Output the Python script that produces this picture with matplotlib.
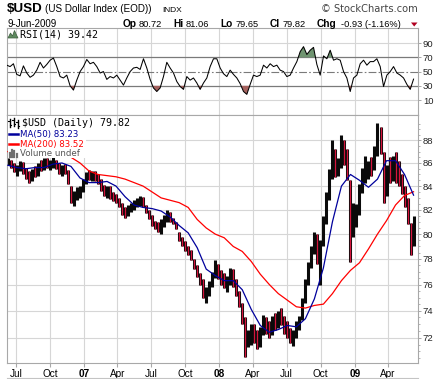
import matplotlib
matplotlib.use("Agg")
import matplotlib.pyplot as plt
from matplotlib.lines import Line2D
from matplotlib.patches import Rectangle, Polygon
from matplotlib.ticker import FixedLocator, NullFormatter, FixedFormatter
import pandas as pd

plt.rcParams['font.family'] = ['Liberation Sans', 'DejaVu Sans']

W, H = 437, 379

# ---------------- data ----------------
price_high = [86.4, 86.3, 86.0, 85.8, 86.2, 86.1, 85.6, 85.3, 85.5, 85.7,
              86.0, 86.3, 86.4, 86.4, 86.3, 86.5, 86.3, 86.0, 85.8, 85.9,
              85.4, 84.0, 83.6, 83.9, 84.0, 84.6, 85.2, 85.4, 85.3, 85.3,
              85.0, 84.6, 84.1, 84.0, 84.0, 83.5, 83.3, 83.0, 82.6, 82.2,
              82.4, 82.6, 82.8, 83.0, 83.2, 83.1, 82.4, 82.0, 81.6, 81.1,
              81.0, 81.2, 81.6, 82.0, 81.8, 81.3, 81.0, 80.2, 79.8, 79.4,
              79.0, 78.7, 78.0, 77.5, 76.9, 76.4, 75.8, 76.3, 77.0, 77.9,
              77.6, 77.1, 76.9, 76.7, 77.3, 77.2, 76.4, 75.5, 74.6, 73.5,
              72.6, 73.0, 73.0, 72.6, 72.8, 73.7, 73.5, 73.2, 73.6, 73.8,
              74.0, 74.2, 73.6, 73.2, 72.7, 72.6, 73.2, 73.6, 75.0, 76.4,
              77.8, 79.0, 80.2, 80.0, 79.5, 81.5, 83.5, 85.5, 88.0, 87.2,
              86.4, 88.5, 88.0, 87.2, 84.5, 82.6, 82.5, 84.2, 85.6, 86.6,
              86.2, 86.5, 87.5, 89.6, 89.2, 87.0, 85.8, 86.5, 86.6, 87.0,
              86.2, 85.0, 84.0, 83.0, 80.9, 81.5]
price_low = [85.8, 85.6, 85.2, 84.9, 85.3, 85.0, 84.6, 84.3, 84.4, 84.8,
             84.9, 85.3, 85.4, 85.6, 85.4, 85.6, 85.5, 85.0, 84.9, 85.0,
             84.2, 82.6, 82.3, 82.8, 83.0, 83.5, 84.2, 84.5, 84.4, 84.4,
             84.2, 83.6, 83.2, 83.0, 82.9, 82.7, 82.6, 82.2, 81.6, 81.3,
             81.5, 81.8, 82.0, 82.2, 82.3, 82.2, 81.7, 81.2, 80.7, 80.4,
             80.2, 80.0, 80.6, 81.0, 81.0, 80.8, 80.4, 79.4, 79.0, 78.6,
             78.3, 77.9, 77.2, 76.6, 76.0, 75.0, 74.6, 75.1, 75.8, 76.5,
             76.4, 76.0, 75.7, 75.4, 76.0, 75.8, 75.1, 74.3, 73.0, 70.6,
             71.3, 71.5, 71.6, 71.2, 71.3, 72.2, 72.3, 72.0, 72.2, 72.6,
             72.7, 72.9, 72.3, 72.0, 71.6, 71.4, 72.0, 72.6, 73.3, 74.6,
             76.0, 77.3, 78.4, 77.6, 76.0, 79.0, 80.8, 82.8, 84.6, 84.8,
             84.9, 85.6, 85.8, 84.5, 77.8, 79.8, 80.6, 81.6, 83.4, 84.3,
             84.6, 84.9, 85.4, 86.6, 86.8, 82.6, 83.2, 84.3, 84.4, 84.3,
             84.0, 83.3, 82.2, 80.8, 78.3, 79.0]
price_close = [86.0, 85.8, 85.3, 85.6, 85.9, 85.2, 84.8, 84.6, 85.2, 85.0,
               85.8, 85.6, 86.1, 85.9, 86.0, 86.2, 85.7, 85.3, 85.5, 85.2,
               84.4, 82.9, 83.0, 83.5, 83.8, 84.4, 85.0, 84.8, 85.0, 84.7,
               84.5, 83.9, 83.5, 83.8, 83.2, 83.0, 82.9, 82.4, 81.8, 81.6,
               82.0, 82.3, 82.5, 82.6, 83.0, 82.4, 81.9, 81.4, 80.9, 80.6,
               80.4, 81.0, 81.3, 81.8, 81.2, 81.0, 80.6, 79.6, 79.2, 78.9,
               78.5, 78.1, 77.4, 76.8, 76.3, 75.3, 75.5, 76.0, 76.6, 77.4,
               76.8, 76.5, 76.0, 76.2, 77.0, 76.0, 75.4, 74.6, 73.3, 71.6,
               72.0, 72.5, 72.0, 71.6, 72.5, 73.3, 72.8, 72.5, 73.4, 73.0,
               73.6, 73.5, 72.6, 72.4, 71.9, 72.2, 73.0, 73.4, 74.8, 76.2,
               77.5, 78.6, 79.8, 78.0, 78.8, 81.0, 83.0, 85.0, 86.5, 85.5,
               86.0, 87.5, 86.4, 85.0, 81.0, 81.5, 82.0, 83.8, 85.2, 85.6,
               85.8, 85.6, 87.2, 88.8, 87.4, 84.2, 85.4, 85.0, 86.0, 84.8,
               84.5, 83.6, 82.5, 81.2, 78.8, 79.82]

ma50 = [85.8, 85.6, 85.5, 85.6, 85.6, 85.9, 86.0, 85.7, 84.7, 84.3,
        84.3, 84.4, 84.0, 83.1, 82.4, 82.2, 82.1, 81.9, 81.4, 80.7,
        80.1, 78.9, 77.2, 76.7, 76.3, 76.3, 75.6, 74.1, 72.9, 72.4,
        72.6, 72.9, 72.8, 73.4, 74.9, 77.3, 81.0, 84.0, 85.0, 84.5,
        83.9, 84.6, 86.2, 86.2, 85.0, 83.23]
ma200 = [87.0, 86.9, 86.9, 86.8, 86.8, 86.7, 86.6, 86.5, 86.0, 85.3,
         85.0, 84.9, 84.8, 84.6, 84.3, 84.0, 83.5, 83.0, 82.8, 82.6,
         82.2, 81.2, 80.5, 80.0, 79.7, 79.0, 78.6, 77.8, 76.8, 76.0,
         75.3, 74.8, 74.3, 74.2, 74.4, 74.5, 75.3, 76.3, 77.1, 77.7,
         78.8, 80.0, 81.1, 82.4, 83.2, 83.52]

rsi = [59, 57, 61, 46, 44, 58, 48, 42, 45, 52, 63, 55, 60, 66, 69, 57, 43, 41,
       45, 30, 24, 38, 50, 57, 67, 61, 63, 57, 48, 50, 39, 43, 41, 45, 38, 31,
       41, 50, 55, 56, 53, 68, 55, 39, 27, 22, 27, 43, 63, 55, 48, 36, 29, 25,
       43, 38, 41, 34, 25, 34, 41, 57, 68, 68, 55, 47, 43, 52, 46, 41, 33, 22,
       18, 32, 45, 43, 45, 59, 55, 61, 57, 59, 52, 50, 43, 45, 55, 64, 78, 85,
       74, 80, 84, 60, 45, 72, 68, 80, 66, 68, 66, 50, 41, 22, 41, 45, 61, 66,
       59, 64, 64, 68, 57, 29, 45, 50, 57, 48, 45, 41, 32, 25, 39.42]

quarter_dates = ['2006-07-01', '2006-10-01', '2007-01-01', '2007-04-01',
                 '2007-07-01', '2007-10-01', '2008-01-01', '2008-04-01',
                 '2008-07-01', '2008-10-01', '2009-01-01', '2009-04-01']
quarter_labels = ['Jul', 'Oct', '07', 'Apr', 'Jul', 'Oct', '08', 'Apr',
                  'Jul', 'Oct', '09', 'Apr']
price_ticks = [72, 74, 76, 78, 80, 82, 84, 86, 88]
rsi_ticks = [10, 30, 50, 70, 90]

# ---------------- positions ----------------
start, end = "2006-06-09", "2009-06-09"
price_dates = pd.date_range(start, end, periods=len(price_close))
ma_dates = pd.date_range(start, end, periods=len(ma50))
rsi_dates = pd.date_range("2006-06-06", end, periods=len(rsi))
x_left = pd.Timestamp("2006-06-06 16:00")
x_right = pd.Timestamp("2009-06-21")
qd = pd.to_datetime(quarter_dates)

fig = plt.figure(figsize=(W / 100, H / 100), dpi=100)


def box(x0, y0, x1, y1):
    return [x0 / W, 1 - y1 / H, (x1 - x0) / W, (y1 - y0) / H]


def fx(x):
    return x / W


def fy(y):
    return 1 - y / H


grid_c = '#d6d6d6'
spine_c = '#a8a8a8'

ax_r = fig.add_axes(box(7, 28.5, 418, 115))
ax = fig.add_axes(box(7, 115, 418, 363))

for a in (ax_r, ax):
    a.set_xlim(x_left, x_right)
    a.set_xticks(qd)
    for s in a.spines.values():
        s.set_color(spine_c)
        s.set_linewidth(0.8)
    a.grid(True, axis='x', color=grid_c, lw=0.8)
    a.set_axisbelow(True)
    a.yaxis.tick_right()
    a.tick_params(axis='y', colors=spine_c, labelcolor='#222222',
                  labelsize=6.8, length=2, width=0.7, pad=1.5)

# ---------------- RSI panel ----------------
ax_r.tick_params(axis='x', length=0, labelbottom=False)
ax_r.set_ylim(-11, 110.5)
ax_r.set_yticks(rsi_ticks)
ax_r.set_yticklabels([str(t) for t in rsi_ticks])
for lvl in (90, 10):
    ax_r.axhline(lvl, color=grid_c, lw=0.8, zorder=0)
ax_r.axhline(70, color='#7a7a7a', lw=0.9, zorder=1)
ax_r.axhline(30, color='#7a7a7a', lw=0.9, zorder=1)
ax_r.axhline(50, color='#7a7a7a', lw=0.8, ls=(0, (7, 2, 1.5, 2)), zorder=1)
ax_r.fill_between(rsi_dates, rsi, 70, where=[v > 70 for v in rsi],
                  interpolate=True, color='#6f9470', lw=0, zorder=2)
ax_r.fill_between(rsi_dates, rsi, 30, where=[v < 30 for v in rsi],
                  interpolate=True, color='#a5625e', lw=0, zorder=2)
ax_r.plot(rsi_dates, rsi, color='black', lw=0.75, zorder=3)

# ---------------- price panel ----------------
ax.set_yscale('log')
ax.set_ylim(70.17, 90.3)
ax.yaxis.set_major_locator(FixedLocator(price_ticks))
ax.yaxis.set_major_formatter(FixedFormatter([str(t) for t in price_ticks]))
minor = [v / 2 for v in range(141, 181) if v % 4 != 0]
ax.yaxis.set_minor_locator(FixedLocator(minor))
ax.yaxis.set_minor_formatter(NullFormatter())
ax.tick_params(axis='y', which='minor', colors=spine_c, length=1.5, width=0.6)
ax.grid(True, axis='y', which='major', color=grid_c, lw=0.8)
ax.grid(False, axis='y', which='minor')
ax.tick_params(axis='x', colors=spine_c, labelcolor='black', length=3,
               width=0.8, labelsize=7.2, pad=1.5)
ax.set_xticklabels(quarter_labels)
for lab, txt in zip(ax.get_xticklabels(), quarter_labels):
    if txt.isdigit():
        lab.set_fontweight('bold')

# daily-style bars: dark band, down periods streaked in red
ax.vlines(price_dates, price_low, price_high, colors='#0a0a0a', lw=2.2, zorder=2)
down = [i for i in range(1, len(price_close)) if price_close[i] < price_close[i - 1]]
ax.vlines(price_dates[down], [price_low[i] for i in down],
          [price_high[i] for i in down], colors='#d4143c', lw=0.9, zorder=2.5)
ax.plot(ma_dates, ma200, color='#ff0000', lw=0.9, zorder=3)
ax.plot(ma_dates, ma50, color='#00009c', lw=0.9, zorder=3)

# legend white area
ax.add_patch(Rectangle((0.002, 0.8266), 0.19, 0.17, transform=ax.transAxes,
                       facecolor='white', edgecolor='none', zorder=4))

# ---------------- legends ----------------
mono = ['DejaVu Sans Mono']
fig.add_artist(Polygon([(fx(8), fy(38)), (fx(10.5), fy(33)), (fx(12.5), fy(36)),
                        (fx(14.5), fy(30.5)), (fx(16.5), fy(35)), (fx(18), fy(38))],
                       closed=True, facecolor='#5f8a60', edgecolor='#3d5f3d', lw=0.5))
fig.text(fx(20.5), fy(34.5), 'RSI(14) 39.42', family=mono, fontsize=7.2,
         va='center', ha='left', color='black')

for xx, y0, y1 in ((9.5, 119, 127), (13.5, 118, 126), (17.5, 120, 128)):
    fig.add_artist(Line2D([fx(xx), fx(xx)], [fy(y0), fy(y1)], color='black', lw=1.0))
    fig.add_artist(Line2D([fx(xx - 1.5), fx(xx)], [fy(y0 + 2), fy(y0 + 2)], color='black', lw=0.8))
    fig.add_artist(Line2D([fx(xx), fx(xx + 1.5)], [fy(y1 - 2), fy(y1 - 2)], color='black', lw=0.8))
fig.text(fx(21.5), fy(123), '$USD (Daily) 79.82', family=mono, fontsize=7.2,
         va='center', ha='left', color='black')

fig.add_artist(Line2D([fx(8.5), fx(17.5)], [fy(134), fy(134)], color='#00009c', lw=1.8))
fig.text(fx(19.5), fy(134), 'MA(50) 83.23', family=['DejaVu Sans'], fontsize=6.2,
         va='center', ha='left', color='#00009c')
fig.add_artist(Line2D([fx(8.5), fx(17.5)], [fy(144), fy(144)], color='#ff0000', lw=1.8))
fig.text(fx(19.5), fy(144), 'MA(200) 83.52', family=['DejaVu Sans'], fontsize=6.2,
         va='center', ha='left', color='#ff0000')
for xx, top in ((9.5, 153), (12, 150), (14.5, 151.5), (17, 154)):
    fig.add_artist(Line2D([fx(xx), fx(xx)], [fy(157.5), fy(top)], color='#707070', lw=1.6))
fig.text(fx(20), fy(154), 'Volume undef', family=['DejaVu Sans'], fontsize=6.2,
         va='center', ha='left', color='#555555')

# ---------------- header ----------------
fig.text(fx(7), fy(12.3), '$USD', fontsize=9.6, fontweight='bold', va='baseline')
fig.text(fx(45), fy(12.3), '(US Dollar Index (EOD))', fontsize=7.1, va='baseline')
fig.text(fx(162), fy(12.3), 'INDX', fontsize=6.0, va='baseline')
fig.text(fx(418), fy(12.3), '\u00a9 StockCharts.com', family=['DejaVu Sans'],
         fontsize=7.1, va='baseline', ha='right', color='#444444')
fig.text(fx(7), fy(26.7), '9-Jun-2009', fontsize=7.0, va='baseline')
pieces = [(123, 'Op', True), (139, '80.72', False), (173, 'Hi', True),
          (186, '81.06', False), (220, 'Lo', True), (236, '79.65', False),
          (270, 'Cl', True), (283, '79.82', False), (317, 'Chg', True),
          (341, '-0.93 (-1.16%)', False)]
for xx, txt, bold in pieces:
    fig.text(fx(xx), fy(26.7), txt, fontsize=7.3 if bold else 6.7,
             fontweight='bold' if bold else 'normal', va='baseline')
fig.add_artist(Polygon([(fx(411), fy(22.5)), (fx(417.5), fy(22.5)), (fx(414.2), fy(26.5))],
                       closed=True, facecolor='#b00020', edgecolor='none'))

fig.add_artist(Line2D([fx(7), fx(418)], [fy(378), fy(378)], color='#c4c4c4', lw=0.8))

fig.savefig('out.png', dpi=100)
